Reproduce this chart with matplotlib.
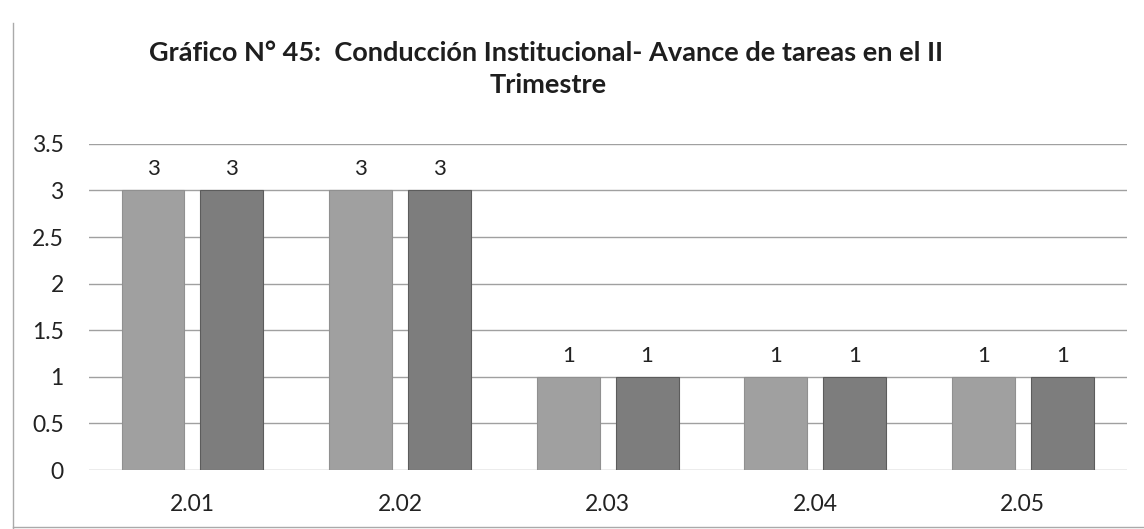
import numpy as np
import matplotlib.pyplot as plt
from matplotlib.lines import Line2D

categories = ['2.01', '2.02', '2.03', '2.04', '2.05']
serie_a = [3, 3, 1, 1, 1]
serie_b = [3, 3, 1, 1, 1]
yticks = [0, 0.5, 1, 1.5, 2, 2.5, 3, 3.5]
ytick_labels = ['0', '0.5', '1', '1.5', '2', '2.5', '3', '3.5']

plt.rcParams['font.family'] = ['Lato', 'DejaVu Sans']

fig = plt.figure(figsize=(11.44, 5.29), dpi=100)
ax = fig.add_axes([0.0775, 0.1115, 0.9073, 0.6165])

x = np.arange(len(categories))
w = 0.303
off = 0.19
b1 = ax.bar(x - off, serie_a, w, color='#a0a0a0', edgecolor='#909090', linewidth=0.8, zorder=3)
b2 = ax.bar(x + off, serie_b, w, color='#7d7d7d', edgecolor='#5c5c5c', linewidth=0.8, zorder=3)
ax.bar_label(b1, padding=8, fontsize=16, color='#222222')
ax.bar_label(b2, padding=8, fontsize=16, color='#222222')

ax.set_xlim(-0.5, len(categories) - 0.5)
ax.set_ylim(0, 3.5)
ax.set_yticks(yticks)
ax.set_yticklabels(ytick_labels)
ax.set_xticks(x)
ax.set_xticklabels(categories)
ax.tick_params(axis='both', length=0, labelsize=16.5, colors='#222222')
ax.tick_params(axis='x', pad=17)
ax.tick_params(axis='y', pad=18)
ax.grid(axis='y', color='#a0a0a0', linewidth=1.0, zorder=0)
for s in ax.spines.values():
    s.set_visible(False)

fig.text(0.477, 0.9, 'Gráfico N° 45:  Conducción Institucional- Avance de tareas en el II',
         ha='center', va='center', fontsize=19.5, fontweight='bold', color='#1e1e1e')
fig.text(0.479, 0.839, 'Trimestre', ha='center', va='center', fontsize=19.5,
         fontweight='bold', color='#1e1e1e')

# marco del gráfico
fig.add_artist(Line2D([0.011, 0.011], [0.0, 0.957], color='#aaaaaa', linewidth=1.0))
fig.add_artist(Line2D([0.011, 1.0], [0.004, 0.004], color='#aaaaaa', linewidth=1.0))

fig.savefig('out.png', dpi=100)
